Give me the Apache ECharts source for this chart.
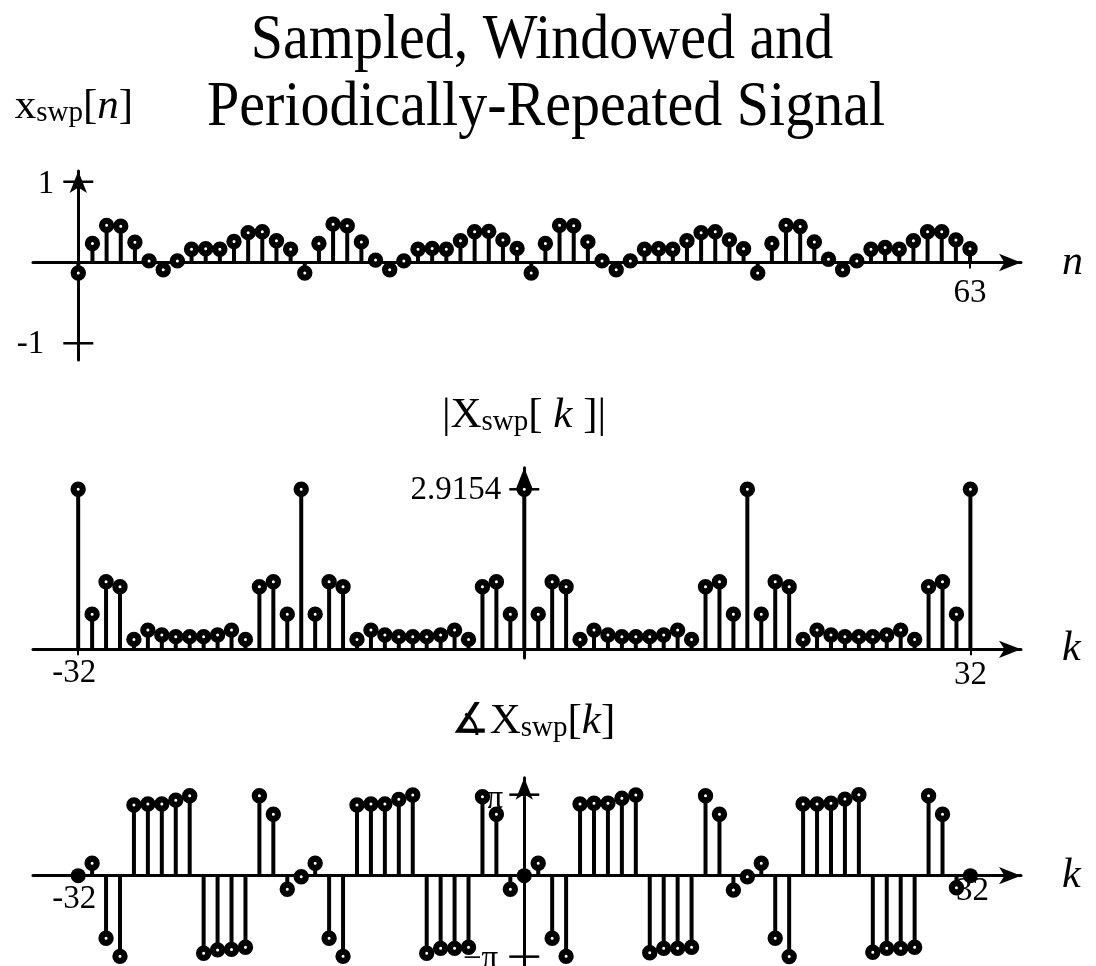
<!DOCTYPE html>
<html>
<head>
<meta charset="utf-8">
<script src="https://cdn.jsdelivr.net/npm/echarts@6/dist/echarts.min.js"></script>
<style>
  html, body { margin: 0; padding: 0; background: #fff; }
  #chart { width: 1096px; height: 966px; }
</style>
</head>
<body>
<div id="chart"></div>
<script>
// ---- data ----
// time-domain samples x_swp[n], n = 0..63
const nValues = Array.from({ length: 64 }, (_, i) => i);
const xSwp = [
  -0.13, 0.235, 0.46, 0.45, 0.25, 0.02, -0.09, 0.02, 0.165, 0.17, 0.165, 0.26, 0.37, 0.38, 0.27, 0.165,
  -0.13, 0.235, 0.475, 0.455, 0.255, 0.03, -0.09, 0.02, 0.165, 0.175, 0.165, 0.27, 0.38, 0.385, 0.28, 0.175,
  -0.13, 0.235, 0.46, 0.455, 0.255, 0.02, -0.09, 0.02, 0.165, 0.17, 0.165, 0.27, 0.37, 0.38, 0.28, 0.17,
  -0.13, 0.235, 0.46, 0.445, 0.255, 0.04, -0.09, 0.02, 0.165, 0.185, 0.165, 0.27, 0.38, 0.38, 0.28, 0.17
];

// DFT harmonic numbers k = -32..32
const kValues = Array.from({ length: 65 }, (_, i) => i - 32);
// |X_swp[k]|
const magX = [
  2.9154, 0.64, 1.23, 1.14, 0.18, 0.35, 0.26, 0.23, 0.23, 0.23, 0.26, 0.35, 0.18, 1.14, 1.23, 0.64,
  2.9154, 0.64, 1.23, 1.14, 0.18, 0.35, 0.26, 0.23, 0.23, 0.23, 0.26, 0.35, 0.18, 1.14, 1.23, 0.64,
  2.9154, 0.64, 1.23, 1.14, 0.18, 0.35, 0.26, 0.23, 0.23, 0.23, 0.26, 0.35, 0.18, 1.14, 1.23, 0.64,
  2.9154, 0.64, 1.23, 1.14, 0.18, 0.35, 0.26, 0.23, 0.23, 0.23, 0.26, 0.35, 0.18, 1.14, 1.23, 0.64,
  2.9154
];
// phase of X_swp[k], radians
const phaseX = [
  0, 0.48, -2.43, -3.13, 2.74, 2.78, 2.78, 2.93, 3.10, -3.01, -2.88, -2.86, -2.78, 3.10, 2.38, -0.53,
  -0.04, 0.48, -2.43, -3.13, 2.74, 2.78, 2.78, 2.96, 3.13, -3.01, -2.82, -2.82, -2.78, 3.06, 2.38, -0.53,
  0, 0.48, -2.43, -3.13, 2.78, 2.81, 2.81, 3.00, 3.13, -2.99, -2.82, -2.82, -2.78, 3.10, 2.38, -0.56,
  -0.04, 0.48, -2.43, -3.14, 2.78, 2.78, 2.81, 2.97, 3.14, -2.97, -2.82, -2.82, -2.78, 3.10, 2.38, -0.47,
  0
];

// tick positions and their labels
const xTickTop = [63];
const xTickTopText = ['63'];
const yTickTop = [1, -1];
const yTickTopText = ['1', '-1'];
const xTickK = [-32, 32];
const xTickKText = ['-32', '32'];
const yTickMag = [2.9154];
const yTickMagText = ['2.9154'];
const yTickPhase = [Math.PI, -Math.PI];
const yTickPhaseText = ['π', '−π'];

// ---- drawing ----
const SERIF = '"Liberation Serif", "Times New Roman", "DejaVu Serif", serif';
const INK = '#000';
const TICK_FONT = '33px ' + SERIF;

const chart = echarts.init(document.getElementById('chart'), null, { renderer: 'canvas' });

// stem plot: vertical line from the axis to the value, capped with a thick ring
function stemSeries(idx, xs, ys, fillZero) {
  return {
    type: 'custom',
    xAxisIndex: idx,
    yAxisIndex: idx,
    data: xs.map((x, i) => [x, ys[i]]),
    clip: false,
    silent: true,
    z: 5,
    renderItem(params, api) {
      const x = api.value(0);
      const y = api.value(1);
      const base = api.coord([x, 0]);
      const tip = api.coord([x, y]);
      const solid = fillZero && y === 0;
      return {
        type: 'group',
        children: [
          { type: 'line', shape: { x1: base[0], y1: base[1], x2: tip[0], y2: tip[1] },
            style: { stroke: INK, lineWidth: 4 } },
          { type: 'circle', shape: { cx: tip[0], cy: tip[1], r: solid ? 7.5 : 4.6 },
            style: { fill: solid ? INK : '#fff', stroke: INK, lineWidth: solid ? 0 : 6.2 } }
        ]
      };
    }
  };
}

// short tick strokes crossing the vertical axis
function crossTicks(idx, vals) {
  return {
    type: 'custom',
    xAxisIndex: idx,
    yAxisIndex: idx,
    data: vals.map(v => [0, v]),
    clip: false,
    silent: true,
    z: 3,
    renderItem(params, api) {
      const c = api.coord([0, api.value(1)]);
      return { type: 'line', shape: { x1: c[0] - 15, y1: c[1], x2: c[0] + 15, y2: c[1] },
               style: { stroke: INK, lineWidth: 2.5 } };
    }
  };
}

// tick labels placed next to the point they name
// spec: [dx, dy, align] for each label
function tickLabels(idx, points, texts, spec) {
  return {
    type: 'custom',
    xAxisIndex: idx,
    yAxisIndex: idx,
    data: points,
    clip: false,
    silent: true,
    z: 4,
    renderItem(params, api) {
      const c = api.coord([api.value(0), api.value(1)]);
      const s = spec[params.dataIndex];
      return { type: 'text', x: c[0] + s[0], y: c[1] + s[1],
               style: { text: texts[params.dataIndex], font: TICK_FONT, fill: INK,
                        align: s[2], verticalAlign: 'middle' } };
    }
  };
}

const axisLine = {
  show: true,
  onZero: true,
  symbol: ['none', 'arrow'],
  symbolSize: [13, 22],
  lineStyle: { color: INK, width: 3 }
};

function xAxisFor(idx, min, max, ticks) {
  return {
    type: 'value', gridIndex: idx, min, max,
    name: idx === 0 ? 'n' : 'k',
    nameLocation: 'end',
    nameGap: 41,
    nameTextStyle: { fontFamily: SERIF, fontStyle: 'italic', fontSize: 42, color: INK, verticalAlign: 'middle' },
    axisLine,
    splitLine: { show: false },
    axisTick: { show: true, customValues: ticks, length: 6, lineStyle: { color: INK, width: 2 } },
    axisLabel: { show: false }
  };
}

function yAxisFor(idx, min, max) {
  return {
    type: 'value', gridIndex: idx, min, max,
    axisLine,
    splitLine: { show: false },
    axisTick: { show: false },
    axisLabel: { show: false }
  };
}

// rich label pieces for the three axis titles
const labelRich = {
  m: { fontFamily: SERIF, fontSize: 43, color: INK, lineHeight: 48, verticalAlign: 'bottom' },
  i: { fontFamily: SERIF, fontSize: 43, fontStyle: 'italic', color: INK, lineHeight: 48, verticalAlign: 'bottom' },
  s: { fontFamily: SERIF, fontSize: 29, color: INK, lineHeight: 20, verticalAlign: 'bottom' }
};

function gridAt(top, height) {
  return { left: 33, top, width: 988, height, containLabel: false, outerBoundsMode: 'none' };
}

const option = {
  backgroundColor: '#fff',
  animation: false,
  grid: [gridAt(171, 189), gridAt(467.7, 190.3), gridAt(777.7, 192.3)],
  xAxis: [
    xAxisFor(0, -3.2, 66.6, xTickTop),
    xAxisFor(1, -35.24, 35.63, xTickK),
    xAxisFor(2, -35.24, 35.63, xTickK)
  ],
  yAxis: [
    yAxisFor(0, -1.207, 1.133),
    yAxisFor(1, -0.1585, 3.309),
    yAxisFor(2, -3.66, 3.80)
  ],
  graphic: [
    { type: 'text', x: 542, y: 42, scaleY: 1.08, silent: true,
      style: { text: 'Sampled, Windowed and', font: '58px ' + SERIF, fill: INK,
               textAlign: 'center', textVerticalAlign: 'middle', align: 'center', verticalAlign: 'middle' } },
    { type: 'text', x: 546, y: 109, scaleY: 1.08, silent: true,
      style: { text: 'Periodically-Repeated Signal', font: '58px ' + SERIF, fill: INK,
               textAlign: 'center', textVerticalAlign: 'middle', align: 'center', verticalAlign: 'middle' } },
    { type: 'text', x: 74, y: 128, silent: true,
      style: { text: '{m|x}{s|swp}{m|[}{i|n}{m|]}', rich: labelRich,
               textAlign: 'center', textVerticalAlign: 'bottom', align: 'center', verticalAlign: 'bottom' } },
    { type: 'text', x: 524, y: 437, silent: true,
      style: { text: '{m||X}{s|swp}{m|[ }{i|k}{m| ]|}', rich: labelRich,
               textAlign: 'center', textVerticalAlign: 'bottom', align: 'center', verticalAlign: 'bottom' } },
    { type: 'text', x: 533, y: 743, silent: true,
      style: { text: '{m|∡X}{s|swp}{m|[}{i|k}{m|]}', rich: labelRich,
               textAlign: 'center', textVerticalAlign: 'bottom', align: 'center', verticalAlign: 'bottom' } }
  ],
  series: [
    crossTicks(0, yTickTop),
    crossTicks(1, yTickMag),
    crossTicks(2, yTickPhase),
    stemSeries(0, nValues, xSwp, false),
    stemSeries(1, kValues, magX, false),
    stemSeries(2, kValues, phaseX, true),
    tickLabels(0, yTickTop.map(v => [0, v]), yTickTopText, [[-24, 3, 'right'], [-34, 1, 'right']]),
    tickLabels(0, xTickTop.map(v => [v, 0]), xTickTopText, [[0, 31, 'center']]),
    tickLabels(1, yTickMag.map(v => [0, v]), yTickMagText, [[-23, 1, 'right']]),
    tickLabels(1, xTickK.map(v => [v, 0]), xTickKText, [[-4, 24, 'center'], [0, 26, 'center']]),
    tickLabels(2, yTickPhase.map(v => [0, v]), yTickPhaseText, [[-21, 5, 'right'], [-26, 3, 'right']]),
    tickLabels(2, xTickK.map(v => [v, 0]), xTickKText, [[-4, 24, 'center'], [2, 16, 'center']])
  ]
};

chart.setOption(option);
</script>
</body>
</html>
